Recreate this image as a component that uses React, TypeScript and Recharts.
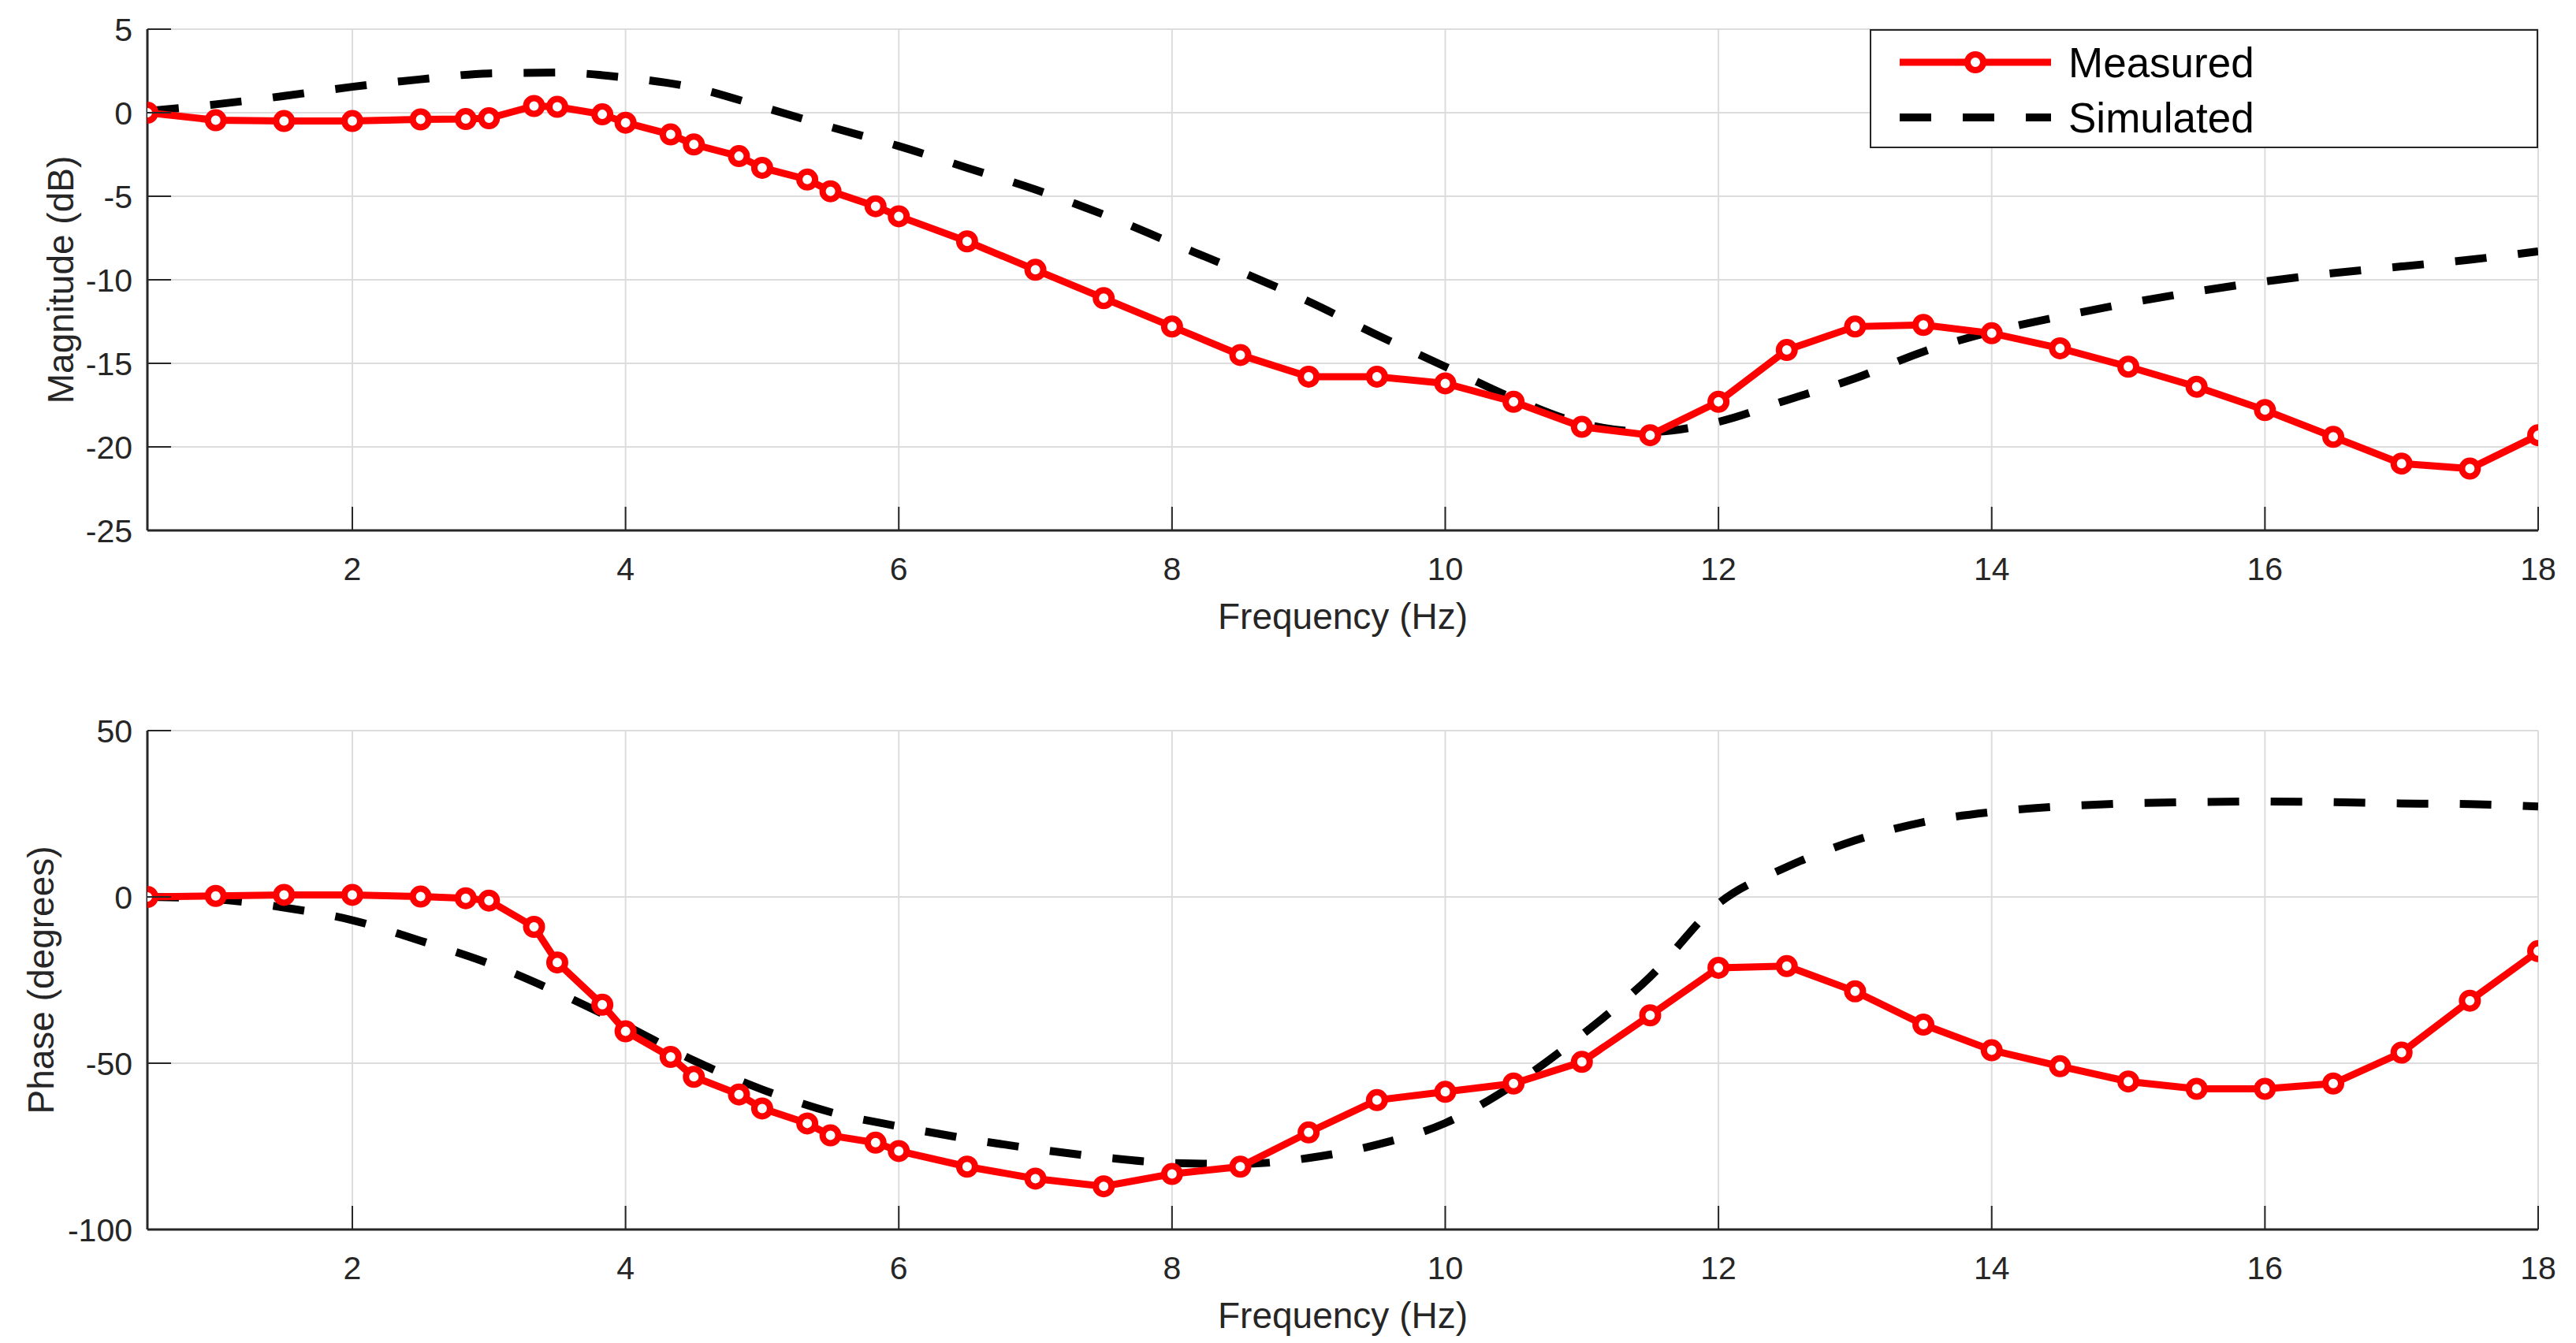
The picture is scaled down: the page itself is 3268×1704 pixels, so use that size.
import React from 'react';
import {
  LineChart,
  Line,
  XAxis,
  YAxis,
  CartesianGrid,
  Legend
} from 'recharts';

// measured points (frequency in Hz)
const freqMeasured = [
  0.5, 1, 1.5, 2, 2.5, 2.83, 3, 3.33, 3.5, 3.83, 4, 4.33, 4.5, 4.83, 5, 5.33, 5.5, 5.83, 6,
  6.5, 7, 7.5, 8, 8.5, 9, 9.5, 10, 10.5, 11, 11.5, 12, 12.5, 13, 13.5, 14, 14.5, 15, 15.5, 16,
  16.5, 17, 17.5, 18
];
const magMeasured = [
  0, -0.45, -0.5, -0.5, -0.4, -0.38, -0.33, 0.4, 0.35, -0.1, -0.6, -1.3, -1.9, -2.6, -3.3, -4.0,
  -4.7, -5.6, -6.2, -7.7, -9.4, -11.1, -12.8, -14.5, -15.8, -15.8, -16.2, -17.3, -18.8, -19.3,
  -17.3, -14.2, -12.8, -12.7, -13.2, -14.1, -15.2, -16.4, -17.8, -19.4, -21.0, -21.3, -19.3
];
const phaseMeasured = [
  0, 0.3, 0.6, 0.6, 0.1, -0.4, -1.1, -9, -19.7, -32.4, -40.4, -48.1, -54.1, -59.4, -63.6, -68.1,
  -71.7, -73.9, -76.4, -81.1, -84.7, -87.0, -83.3, -81.1, -70.8, -61.1, -58.6, -56.1, -49.6,
  -35.6, -21.3, -20.8, -28.4, -38.4, -46.1, -50.9, -55.5, -57.7, -57.7, -56.1, -46.8, -31.2, -16.3
];

// simulated curve samples
const freqSimulated = [
  0.5, 1, 1.5, 2, 2.5, 3, 3.5, 4, 4.5, 5, 5.5, 6, 6.5, 7, 7.5, 8, 8.5, 9, 9.5, 10, 10.5, 11,
  11.5, 12, 12.5, 13, 13.5, 14, 14.5, 15, 15.5, 16, 16.5, 17, 17.5, 18
];
const magSimulated = [
  0.1, 0.5, 1.0, 1.55, 2.0, 2.35, 2.4, 2.1, 1.5, 0.35, -0.85, -2.0, -3.3, -4.6, -6.1, -7.8, -9.5,
  -11.3, -13.3, -15.2, -17.1, -18.6, -19.1, -18.5, -17.2, -15.9, -14.3, -13.1, -12.2, -11.4,
  -10.7, -10.1, -9.6, -9.2, -8.8, -8.3
];
const phaseSimulated = [
  0, -0.7, -3.2, -7, -13.2, -20, -28.7, -38.6, -49.2, -57.9, -64.7, -69, -72.7, -75.8, -78.3,
  -80, -80.3, -78.5, -74.5, -68, -56.5, -41.5, -24, -2, 9, 17, 22.5, 25.5, 27.2, 28.1, 28.5,
  28.7, 28.5, 28.1, 27.9, 27.2
];

const freqTicks = [2, 4, 6, 8, 10, 12, 14, 16, 18];
const magTicks = [-25, -20, -15, -10, -5, 0, 5];
const phaseTicks = [-100, -50, 0, 50];

const measuredMag = freqMeasured.map((f, i) => ({ f, v: magMeasured[i] }));
const measuredPhase = freqMeasured.map((f, i) => ({ f, v: phaseMeasured[i] }));
const simulatedMag = freqSimulated.map((f, i) => ({ f, v: magSimulated[i] }));
const simulatedPhase = freqSimulated.map((f, i) => ({ f, v: phaseSimulated[i] }));

const FONT = '"Liberation Sans", Arial, Helvetica, sans-serif';
const INK = '#262626';
const TICK_LEN = 30;

const BottomTick = ({ x, y, payload }: any) => (
  <g>
    <line x1={x} y1={y} x2={x} y2={y - TICK_LEN} stroke={INK} strokeWidth={2} />
    <text x={x} y={y + 63} textAnchor="middle" fontSize={41} fill={INK} fontFamily={FONT}>
      {payload.value}
    </text>
  </g>
);

const TopTick = ({ x, y }: any) => (
  <line x1={x} y1={y} x2={x} y2={y + TICK_LEN} stroke={INK} strokeWidth={2} />
);

const LeftTick = ({ x, y, payload }: any) => (
  <g>
    <line x1={x} y1={y} x2={x + TICK_LEN} y2={y} stroke={INK} strokeWidth={2} />
    <text x={x - 19} y={y} dy="0.36em" textAnchor="end" fontSize={41} fill={INK} fontFamily={FONT}>
      {payload.value}
    </text>
  </g>
);

const RightTick = ({ x, y }: any) => (
  <line x1={x} y1={y} x2={x - TICK_LEN} y2={y} stroke={INK} strokeWidth={2} />
);

const xLabel = ({ viewBox }: any) => (
  <text
    x={viewBox.x + viewBox.width / 2}
    y={viewBox.y + 125}
    textAnchor="middle"
    fontSize={46}
    fill={INK}
    fontFamily={FONT}
  >
    Frequency (Hz)
  </text>
);

const yLabel = (text: string, cx: number) => ({ viewBox }: any) => {
  const cy = viewBox.y + viewBox.height / 2;
  return (
    <text
      x={cx}
      y={cy}
      transform={`rotate(-90, ${cx}, ${cy})`}
      textAnchor="middle"
      dominantBaseline="central"
      fontSize={46}
      fill={INK}
      fontFamily={FONT}
    >
      {text}
    </text>
  );
};

const LegendBox = ({ payload }: any) => (
  <div
    style={{
      width: 848,
      height: 151,
      boxSizing: 'border-box',
      border: `2px solid ${INK}`,
      background: '#ffffff'
    }}
  >
    <svg width={844} height={147}>
      {(payload || []).map((entry: any, i: number) => {
        const cy = 40 + i * 70;
        const dashed = entry.dataKey === 'v' && entry.color === '#000000';
        return (
          <g key={entry.value}>
            <line
              x1={36}
              y1={cy}
              x2={228}
              y2={cy}
              stroke={entry.color}
              strokeWidth={dashed ? 10 : 9}
              strokeDasharray={dashed ? '40 40' : undefined}
            />
            {!dashed && (
              <circle cx={132} cy={cy} r={10} fill="#ffffff" stroke={entry.color} strokeWidth={8} />
            )}
            <text
              x={250}
              y={cy}
              dy="0.36em"
              fontSize={53}
              fill="#000000"
              fontFamily={FONT}
            >
              {entry.value}
            </text>
          </g>
        );
      })}
    </svg>
  </div>
);

const frameAxis = { stroke: INK, strokeWidth: 3 };

const App: React.FC = () => {
  return (
    <div
      style={{
        position: 'absolute',
        left: 0,
        top: 0,
        width: 3268,
        height: 1704,
        background: '#ffffff',
        fontFamily: FONT
      }}
    >
      {/* magnitude */}
      <div style={{ position: 'absolute', left: 0, top: 0 }}>
        <LineChart width={3268} height={880} margin={{ top: 37, right: 48, bottom: 0, left: 0 }}>
          <CartesianGrid stroke="#dcdcdc" strokeWidth={2} />
          <XAxis
            dataKey="f"
            type="number"
            domain={[0.5, 18]}
            ticks={freqTicks}
            interval={0}
            allowDataOverflow
            height={207}
            tickSize={0}
            tickMargin={0}
            tickLine={false}
            axisLine={frameAxis}
            tick={<BottomTick />}
            label={{ content: xLabel }}
          />
          <XAxis
            xAxisId="top"
            orientation="top"
            dataKey="f"
            type="number"
            domain={[0.5, 18]}
            ticks={freqTicks}
            interval={0}
            allowDataOverflow
            height={0}
            tickSize={0}
            tickMargin={0}
            tickLine={false}
            axisLine={frameAxis}
            tick={<TopTick />}
          />
          <YAxis
            type="number"
            domain={[-25, 5]}
            ticks={magTicks}
            interval={0}
            allowDataOverflow
            width={187}
            tickSize={0}
            tickMargin={0}
            tickLine={false}
            axisLine={frameAxis}
            tick={<LeftTick />}
            label={{ content: yLabel('Magnitude (dB)', 77) }}
          />
          <YAxis
            yAxisId="right"
            orientation="right"
            type="number"
            domain={[-25, 5]}
            ticks={magTicks}
            interval={0}
            allowDataOverflow
            width={0}
            tickSize={0}
            tickMargin={0}
            tickLine={false}
            axisLine={frameAxis}
            tick={<RightTick />}
          />
          <Line
            data={simulatedMag}
            dataKey="v"
            name="Simulated"
            type="monotone"
            stroke="#000000"
            strokeWidth={10}
            strokeDasharray="40 40"
            dot={false}
            activeDot={false}
            isAnimationActive={false}
          />
          <Line
            data={measuredMag}
            dataKey="v"
            name="Measured"
            type="linear"
            stroke="#ff0000"
            strokeWidth={9}
            dot={{ r: 10, stroke: '#ff0000', strokeWidth: 8, fill: '#ffffff' }}
            activeDot={false}
            isAnimationActive={false}
          />
          <Legend
            layout="horizontal"
            verticalAlign="middle"
            align="center"
            width={848}
            height={151}
            wrapperStyle={{ position: 'absolute', left: 2372, top: 37, width: 848, height: 151 }}
            content={(props: any) => (
              <LegendBox payload={[...(props.payload || [])].sort((a: any) => (a.value === 'Measured' ? -1 : 1))} />
            )}
          />
        </LineChart>
      </div>

      {/* phase */}
      <div style={{ position: 'absolute', left: 0, top: 880 }}>
        <LineChart width={3268} height={824} margin={{ top: 47, right: 48, bottom: 0, left: 0 }}>
          <CartesianGrid stroke="#dcdcdc" strokeWidth={2} />
          <XAxis
            dataKey="f"
            type="number"
            domain={[0.5, 18]}
            ticks={freqTicks}
            interval={0}
            allowDataOverflow
            height={144}
            tickSize={0}
            tickMargin={0}
            tickLine={false}
            axisLine={frameAxis}
            tick={<BottomTick />}
            label={{ content: xLabel }}
          />
          <XAxis
            xAxisId="top"
            orientation="top"
            dataKey="f"
            type="number"
            domain={[0.5, 18]}
            ticks={freqTicks}
            interval={0}
            allowDataOverflow
            height={0}
            tickSize={0}
            tickMargin={0}
            tickLine={false}
            axisLine={frameAxis}
            tick={<TopTick />}
          />
          <YAxis
            type="number"
            domain={[-100, 50]}
            ticks={phaseTicks}
            interval={0}
            allowDataOverflow
            width={187}
            tickSize={0}
            tickMargin={0}
            tickLine={false}
            axisLine={frameAxis}
            tick={<LeftTick />}
            label={{ content: yLabel('Phase (degrees)', 52) }}
          />
          <YAxis
            yAxisId="right"
            orientation="right"
            type="number"
            domain={[-100, 50]}
            ticks={phaseTicks}
            interval={0}
            allowDataOverflow
            width={0}
            tickSize={0}
            tickMargin={0}
            tickLine={false}
            axisLine={frameAxis}
            tick={<RightTick />}
          />
          <Line
            data={simulatedPhase}
            dataKey="v"
            name="Simulated"
            type="monotone"
            stroke="#000000"
            strokeWidth={10}
            strokeDasharray="40 40"
            dot={false}
            activeDot={false}
            legendType="none"
            isAnimationActive={false}
          />
          <Line
            data={measuredPhase}
            dataKey="v"
            name="Measured"
            type="linear"
            stroke="#ff0000"
            strokeWidth={9}
            dot={{ r: 10, stroke: '#ff0000', strokeWidth: 8, fill: '#ffffff' }}
            activeDot={false}
            legendType="none"
            isAnimationActive={false}
          />
        </LineChart>
      </div>
    </div>
  );
};

export default App;
